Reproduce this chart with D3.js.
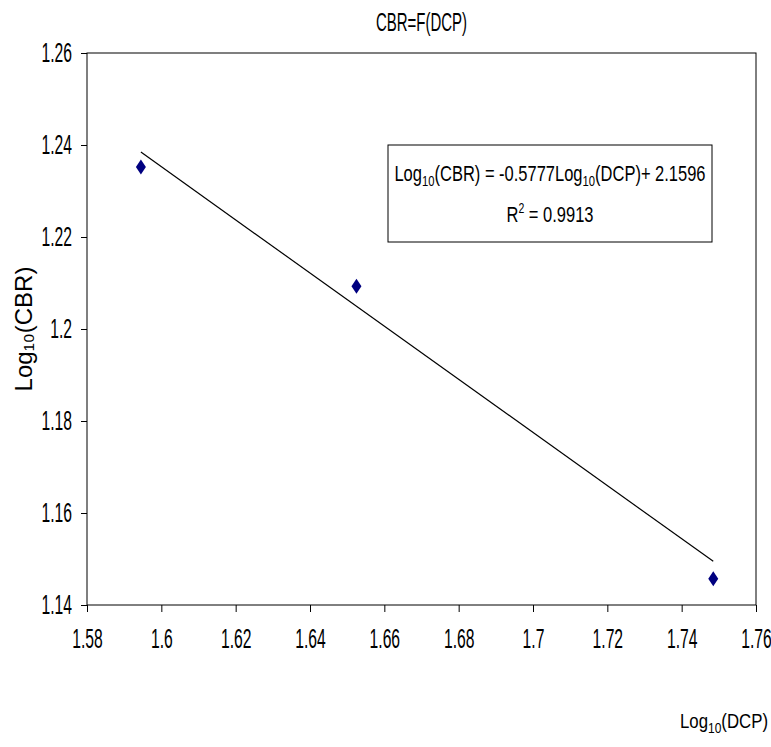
<!DOCTYPE html>
<html>
<head>
<meta charset="utf-8">
<script src="https://cdn.jsdelivr.net/npm/d3@7.9.0/dist/d3.min.js"></script>
<style>
  body { margin: 0; background: #fff; }
  svg { display: block; font-family: "Liberation Sans", Arial, sans-serif; }
</style>
</head>
<body>
<svg id="chart" width="771" height="747"></svg>
<script>
// data
const logDCP = [1.5945, 1.6525, 1.7485];
const logCBR = [1.2352, 1.2093, 1.1457];
const xTicks = [1.58, 1.6, 1.62, 1.64, 1.66, 1.68, 1.7, 1.72, 1.74, 1.76];
const yTicks = [1.14, 1.16, 1.18, 1.2, 1.22, 1.24, 1.26];
// trendline, as printed in the label
const slope = -0.5777;
const intercept = 2.1596;
const rSquared = 0.9913;

const svg = d3.select('#chart');
const plot = { left: 87, right: 756, top: 53, bottom: 605 };

const x = d3.scaleLinear().domain([1.58, 1.76]).range([plot.left, plot.right]);
const y = d3.scaleLinear().domain([1.14, 1.26]).range([plot.bottom, plot.top]);

// squeeze text horizontally, the original font is very narrow
function squeeze(sel, k) {
  sel.each(function () {
    const t = d3.select(this);
    const x0 = +t.attr('x') || 0;
    t.attr('x', x0 / k).attr('transform', `scale(${k},1)`);
  });
}

// frame
svg.append('rect')
  .attr('x', plot.left).attr('y', plot.top)
  .attr('width', plot.right - plot.left).attr('height', plot.bottom - plot.top)
  .attr('fill', 'none').attr('stroke', '#000').attr('stroke-width', 1);

const gx = svg.append('g')
  .attr('transform', `translate(0,${plot.bottom})`)
  .call(d3.axisBottom(x).tickValues(xTicks).tickFormat(d => String(+d.toFixed(2)))
    .tickSizeOuter(0).tickSize(7).tickPadding(16));
gx.select('.domain').remove();
gx.selectAll('text').style('font-size', '28px').attr('fill', '#000');
squeeze(gx.selectAll('text'), 0.56);

const gy = svg.append('g')
  .attr('transform', `translate(${plot.left},0)`)
  .call(d3.axisLeft(y).tickValues(yTicks).tickFormat(d => String(+d.toFixed(2)))
    .tickSizeOuter(0).tickSize(6).tickPadding(9));
gy.select('.domain').remove();
gy.selectAll('text').style('font-size', '28px').attr('fill', '#000');
squeeze(gy.selectAll('text'), 0.56);

// trendline over the data range
const xExt = d3.extent(logDCP);
svg.append('line')
  .attr('x1', x(xExt[0])).attr('y1', y(slope * xExt[0] + intercept))
  .attr('x2', x(xExt[1])).attr('y2', y(slope * xExt[1] + intercept))
  .attr('stroke', '#000').attr('stroke-width', 1.2);

// diamonds
svg.append('g').selectAll('path')
  .data(logDCP.map((d, i) => [d, logCBR[i]]))
  .join('path')
  .attr('transform', d => `translate(${x(d[0])},${y(d[1])})`)
  .attr('d', 'M0,-7.5L5,0L0,7.5L-5,0Z')
  .attr('fill', '#000080');

// title
const title = svg.append('text')
  .attr('x', (plot.left + plot.right) / 2).attr('y', 31)
  .attr('text-anchor', 'middle')
  .style('font-size', '25px')
  .text('CBR=F(DCP)');
squeeze(title, 0.6);

// y label
svg.append('text')
  .attr('transform', `translate(32,${(plot.top + plot.bottom) / 2}) rotate(-90)`)
  .attr('text-anchor', 'middle')
  .style('font-size', '24px')
  .text('Log₁₀(CBR)');

// x label
const xl = svg.append('text')
  .attr('x', 768).attr('y', 728)
  .attr('text-anchor', 'end')
  .style('font-size', '21px');
xl.append('tspan').text('Log');
xl.append('tspan').attr('dy', 5).style('font-size', '15px').text('10');
xl.append('tspan').attr('dy', -5).text('(DCP)');
squeeze(xl, 0.8);

// equation box
const box = { x: 388, y: 145, w: 324, h: 97 };
svg.append('rect')
  .attr('x', box.x).attr('y', box.y).attr('width', box.w).attr('height', box.h)
  .attr('fill', '#fff').attr('stroke', '#000').attr('stroke-width', 1);

const cx = box.x + box.w / 2;
const eq = svg.append('text')
  .attr('x', cx).attr('y', 181)
  .attr('text-anchor', 'middle')
  .style('font-size', '22px');
eq.append('tspan').text('Log');
eq.append('tspan').attr('dy', 5).style('font-size', '15px').text('10');
eq.append('tspan').attr('dy', -5).text(`(CBR) = ${slope}Log`);
eq.append('tspan').attr('dy', 5).style('font-size', '15px').text('10');
eq.append('tspan').attr('dy', -5).text(`(DCP)+ ${intercept}`);
squeeze(eq, 0.75);

const r2 = svg.append('text')
  .attr('x', cx).attr('y', 222)
  .attr('text-anchor', 'middle')
  .style('font-size', '22px');
r2.append('tspan').text('R');
r2.append('tspan').attr('dy', -9).style('font-size', '14px').text('2');
r2.append('tspan').attr('dy', 9).text(` = ${rSquared}`);
squeeze(r2, 0.75);
</script>
</body>
</html>
